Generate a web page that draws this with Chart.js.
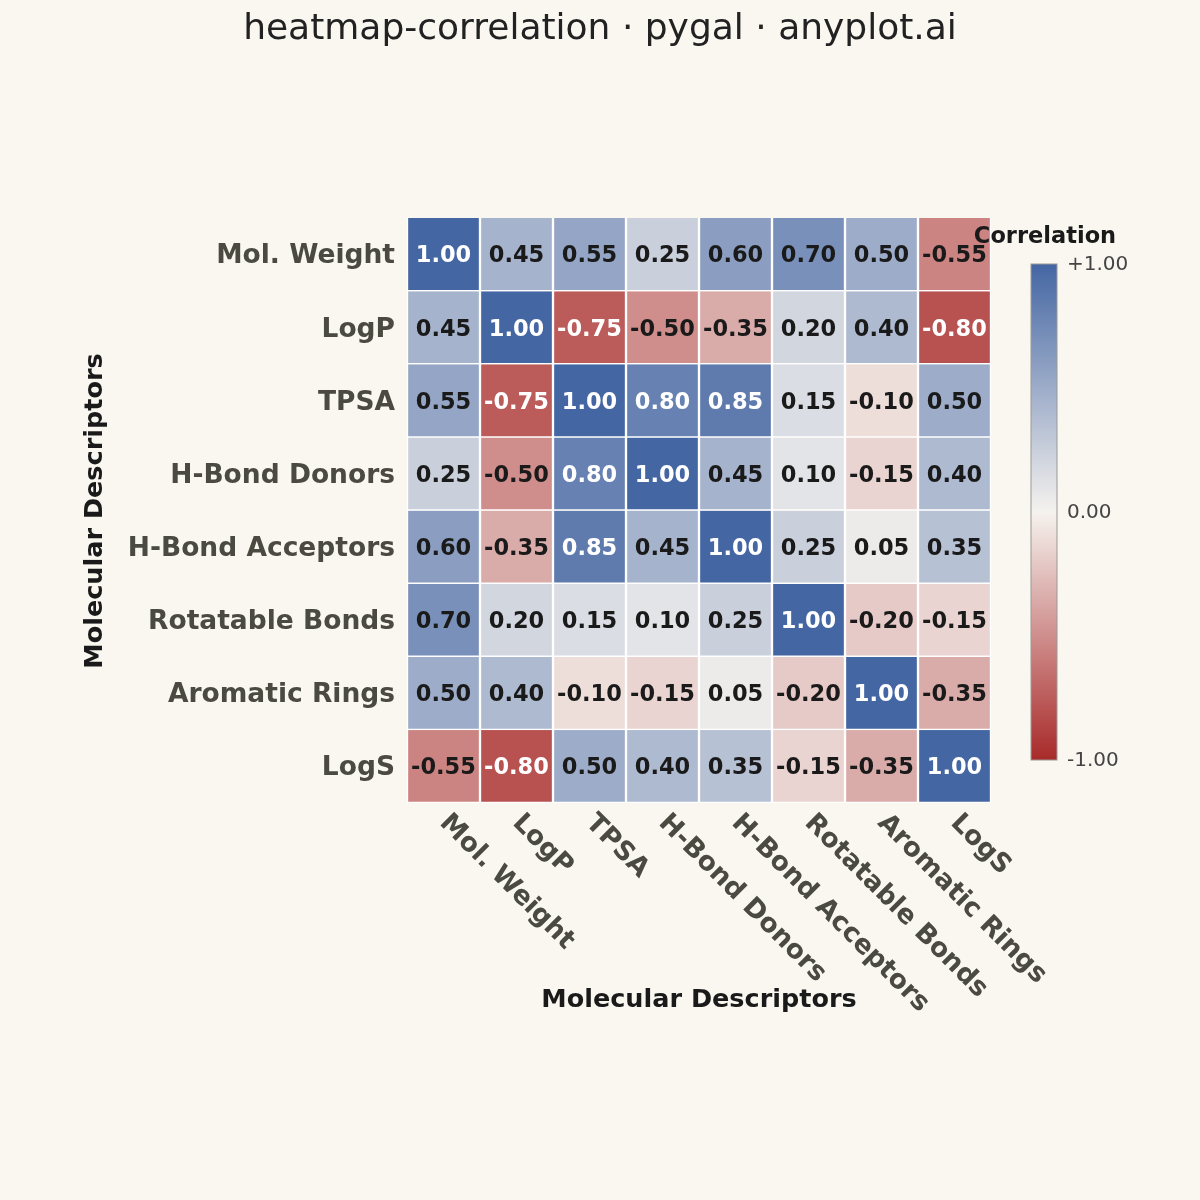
<!DOCTYPE html>
<html>
<head>
<meta charset="utf-8">
<script src="https://cdn.jsdelivr.net/npm/chart.js@4"></script>
<style>body{margin:0;background:#faf7f1}</style>
</head>
<body>
<canvas id="c" width="1200" height="1200"></canvas>
<script>
// DATA
var labels = ["Mol. Weight", "LogP", "TPSA", "H-Bond Donors", "H-Bond Acceptors", "Rotatable Bonds", "Aromatic Rings", "LogS"];
var mw  = [1.00, 0.45, 0.55, 0.25, 0.60, 0.70, 0.50, -0.55];
var logp = [0.45, 1.00, -0.75, -0.50, -0.35, 0.20, 0.40, -0.80];
var tpsa = [0.55, -0.75, 1.00, 0.80, 0.85, 0.15, -0.10, 0.50];
var hbd = [0.25, -0.50, 0.80, 1.00, 0.45, 0.10, -0.15, 0.40];
var hba = [0.60, -0.35, 0.85, 0.45, 1.00, 0.25, 0.05, 0.35];
var rot = [0.70, 0.20, 0.15, 0.10, 0.25, 1.00, -0.20, -0.15];
var arom = [0.50, 0.40, -0.10, -0.15, 0.05, -0.20, 1.00, -0.35];
var logs = [-0.55, -0.80, 0.50, 0.40, 0.35, -0.15, -0.35, 1.00];
var rows = [mw, logp, tpsa, hbd, hba, rot, arom, logs];
var cbTicks = ["+1.00", "0.00", "-1.00"];

var BLUE = [68, 102, 163], MID = [245, 242, 238], RED = [168, 42, 42];
function colorFor(v) {
    var a = v >= 0 ? BLUE : RED, t = Math.abs(v);
    var c = MID.map(function(m, i) { return Math.round(m + (a[i] - m) * t); });
    return "rgb(" + c.join(",") + ")";
}

var datasets = rows.map(function(r) {
    return {
        data: r.map(function() { return 1; }),
        vals: r,
        backgroundColor: r.map(colorFor),
        borderColor: "#ffffff",
        borderWidth: 1.5,
        barPercentage: 1,
        categoryPercentage: 1
    };
});

//DECORATIONS PLUGIN
var deco = {
    id: "deco",
    afterDatasetsDraw: function(chart) {
        var c = chart.ctx, a = chart.chartArea;
        c.save();
        // cell values
        c.textAlign = "center"; c.textBaseline = "middle";
        c.font = "bold 22.5px 'DejaVu Sans'";
        chart.data.datasets.forEach(function(ds, di) {
            chart.getDatasetMeta(di).data.forEach(function(el, i) {
                var v = ds.vals[i];
                var y = (el.y + el.base) / 2 + 2;
                c.fillStyle = Math.abs(v) >= 0.75 ? "#ffffff" : "#1a1a1a";
                c.fillText(v.toFixed(2), el.x, y);
            });
        });
        // y labels
        var h = (a.bottom - a.top) / labels.length;
        c.textAlign = "right"; c.fillStyle = "#4a4a40";
        c.font = "bold 26.5px 'DejaVu Sans'";
        labels.forEach(function(l, i) { c.fillText(l, a.left - 12, a.top + h * (i + 0.5) + 2); });
        // x labels rotated
        var w = (a.right - a.left) / labels.length;
        c.textAlign = "left";
        labels.forEach(function(l, i) {
            c.save();
            c.translate(a.left + w * (i + 0.5), a.bottom + 16);
            c.rotate(Math.PI / 4);
            c.fillText(l, 0, 0);
            c.restore();
        });
        // axis titles
        c.fillStyle = "#1a1a1a"; c.font = "bold 25.5px 'DejaVu Sans'";
        c.textAlign = "center";
        c.fillText("Molecular Descriptors", 699, 1000);
        c.save(); c.translate(95, 511); c.rotate(-Math.PI / 2);
        c.fillText("Molecular Descriptors", 0, 0); c.restore();
        // title
        c.font = "36px 'DejaVu Sans'"; c.fillStyle = "#222222";
        c.fillText("heatmap-correlation \u00b7 pygal \u00b7 anyplot.ai", 600, 30);
        // colorbar
        var x0 = 1031, x1 = 1057, y0 = 264, y1 = 760;
        var g = c.createLinearGradient(0, y0, 0, y1);
        g.addColorStop(0, colorFor(1)); g.addColorStop(0.5, colorFor(0)); g.addColorStop(1, colorFor(-1));
        c.fillStyle = g; c.fillRect(x0, y0, x1 - x0, y1 - y0);
        c.strokeStyle = "#999999"; c.lineWidth = 1; c.strokeRect(x0, y0, x1 - x0, y1 - y0);
        c.font = "bold 22.5px 'DejaVu Sans'"; c.fillStyle = "#1a1a1a";
        c.fillText("Correlation", 1045, 237);
        c.font = "20px 'DejaVu Sans'"; c.fillStyle = "#444444"; c.textAlign = "left";
        [y0, (y0 + y1) / 2, y1].forEach(function(y, i) { c.fillText(cbTicks[i], 1067, y + 1); });
        c.restore();
    }
};

new Chart(document.getElementById("c").getContext("2d"), {
    type: "bar",
    data: { labels: labels, datasets: datasets },
    options: {
        animation: false,
        responsive: false,
        layout: { padding: { left: 407, top: 218, right: 209, bottom: 397 } },
        plugins: { legend: { display: false }, tooltip: { enabled: false } },
        scales: {
            x: { stacked: true, display: false },
            y: { stacked: true, display: false, reverse: true, min: 0, max: 8 }
        }
    },
    plugins: [deco]
});
</script>
</body>
</html>
